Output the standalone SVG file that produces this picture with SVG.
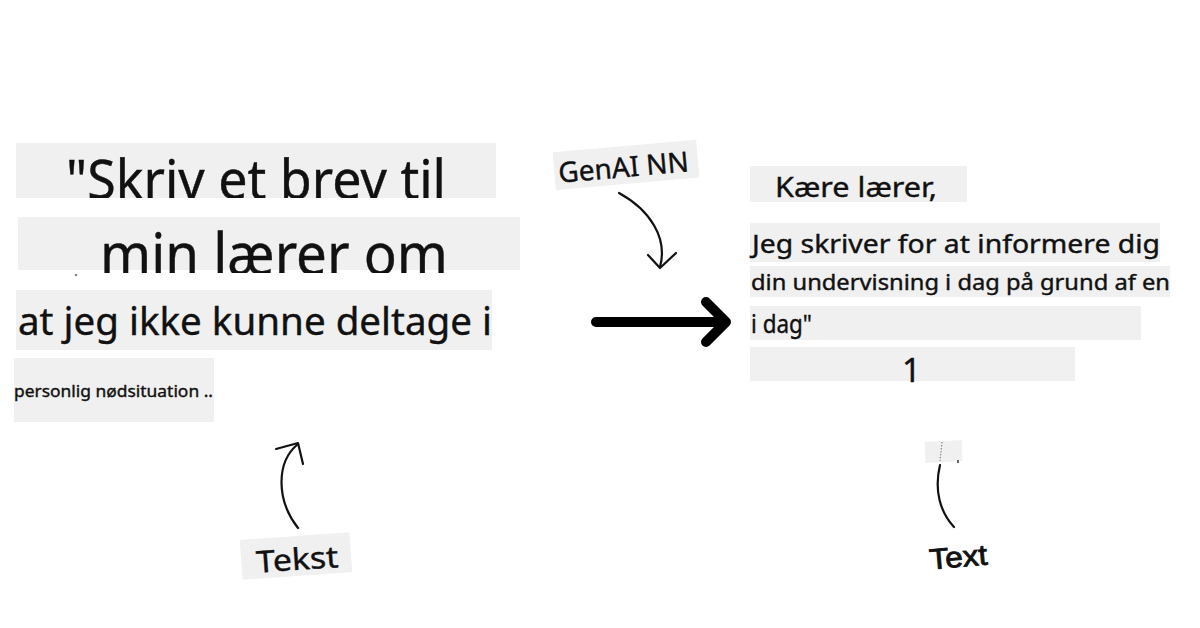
<svg xmlns="http://www.w3.org/2000/svg" width="1200" height="628" viewBox="0 0 1200 628">
<style>
.box{fill:#f0f0f0}
.t{font-family:"Noto Sans","Open Sans",sans-serif;fill:#111;stroke:#111;stroke-width:0.4}
.ln{fill:none;stroke:#111;stroke-width:2.2;stroke-linecap:round;stroke-linejoin:round}
</style>
<defs>
<clipPath id="c1"><rect x="16" y="143" width="480" height="55"/></clipPath>
<clipPath id="c2"><rect x="18" y="217" width="502" height="56"/></clipPath>
</defs>
<rect width="1200" height="628" fill="#fff"/>
<g id="input-line1">
<rect class="box" x="16" y="143" width="480" height="55"/>
<text class="t" x="66" y="199" font-size="54" textLength="380" lengthAdjust="spacingAndGlyphs" clip-path="url(#c1)">"Skriv et brev til</text>
</g>
<g id="input-line2">
<rect class="box" x="18" y="217" width="502" height="53"/>
<text class="t" x="100" y="275" font-size="58" textLength="348" lengthAdjust="spacingAndGlyphs" clip-path="url(#c2)">min lærer om</text>
<circle cx="76" cy="275" r="1.3" fill="#888"/>
</g>
<g id="input-line3">
<rect class="box" x="16" y="290" width="476" height="60"/>
<text class="t" x="18" y="335" font-size="39" textLength="474" lengthAdjust="spacingAndGlyphs">at jeg ikke kunne deltage i</text>
</g>
<g id="input-line4">
<rect class="box" x="14" y="358" width="200" height="64"/>
<text class="t" x="14" y="397" font-size="17" stroke-width="0.2" textLength="199" lengthAdjust="spacingAndGlyphs">personlig nødsituation ..</text>
</g>
<g id="genai-label" transform="rotate(-5 625 165)">
<rect class="box" x="554" y="146" width="144" height="38"/>
<text class="t" x="558" y="177" font-size="28" stroke-width="0.2">GenAI NN</text>
</g>
<g id="output-line1">
<rect class="box" x="750" y="166" width="217" height="36"/>
<text class="t" x="775" y="197" font-size="28" textLength="162" lengthAdjust="spacingAndGlyphs">Kære lærer,</text>
</g>
<g id="output-line2">
<rect class="box" x="750" y="223" width="410" height="39"/>
<text class="t" x="752" y="253" font-size="26" textLength="408" lengthAdjust="spacingAndGlyphs">Jeg skriver for at informere dig</text>
</g>
<g id="output-line3">
<rect class="box" x="750" y="266" width="420" height="31"/>
<text class="t" x="751" y="290" font-size="22" textLength="419" lengthAdjust="spacingAndGlyphs">din undervisning i dag på grund af en</text>
</g>
<g id="output-line4">
<rect class="box" x="750" y="306" width="391" height="34"/>
<text class="t" x="751" y="333" font-size="26" textLength="61" lengthAdjust="spacingAndGlyphs">i dag"</text>
</g>
<g id="output-line5">
<rect class="box" x="750" y="347" width="325" height="34"/>
<text class="t" x="902" y="382" font-size="33">1</text>
</g>
<g id="tekst-label" transform="rotate(-4 296 556)">
<rect class="box" x="241" y="536" width="110" height="40"/>
<text class="t" x="256" y="570" font-size="30" textLength="82" lengthAdjust="spacingAndGlyphs">Tekst</text>
</g>
<g id="text-label" transform="rotate(-5 958 555)">
<text x="929" y="567" font-family="Liberation Sans, sans-serif" font-size="29" fill="#111" stroke="#111" stroke-width="0.9" textLength="58" lengthAdjust="spacingAndGlyphs">Text</text>
</g>
<g id="connectors">
<path class="ln" d="M619 193 C650 210 668 238 660 267"/>
<path class="ln" d="M648 255 L660 268 L676 253"/>
<path fill="none" stroke="#000" stroke-width="10" stroke-linecap="round" stroke-linejoin="round" d="M596 322 L724 322 M706 302 L726 322 L706 342"/>
<path class="ln" d="M298 528 C276 500 276 462 298 444"/>
<path class="ln" d="M276 449 L298 443 L303 464"/>
<rect class="box" x="925" y="441" width="37" height="21" transform="rotate(-3 943 451)"/>
<path fill="none" stroke="#888" stroke-width="1.2" stroke-dasharray="1.5 1.5" d="M942 442 L940 461"/>
<path fill="none" stroke="#333" stroke-width="1.5" d="M958 460 L958 463"/>
<path class="ln" d="M940 465 C934 490 940 512 954 527"/>
</g>
</svg>
